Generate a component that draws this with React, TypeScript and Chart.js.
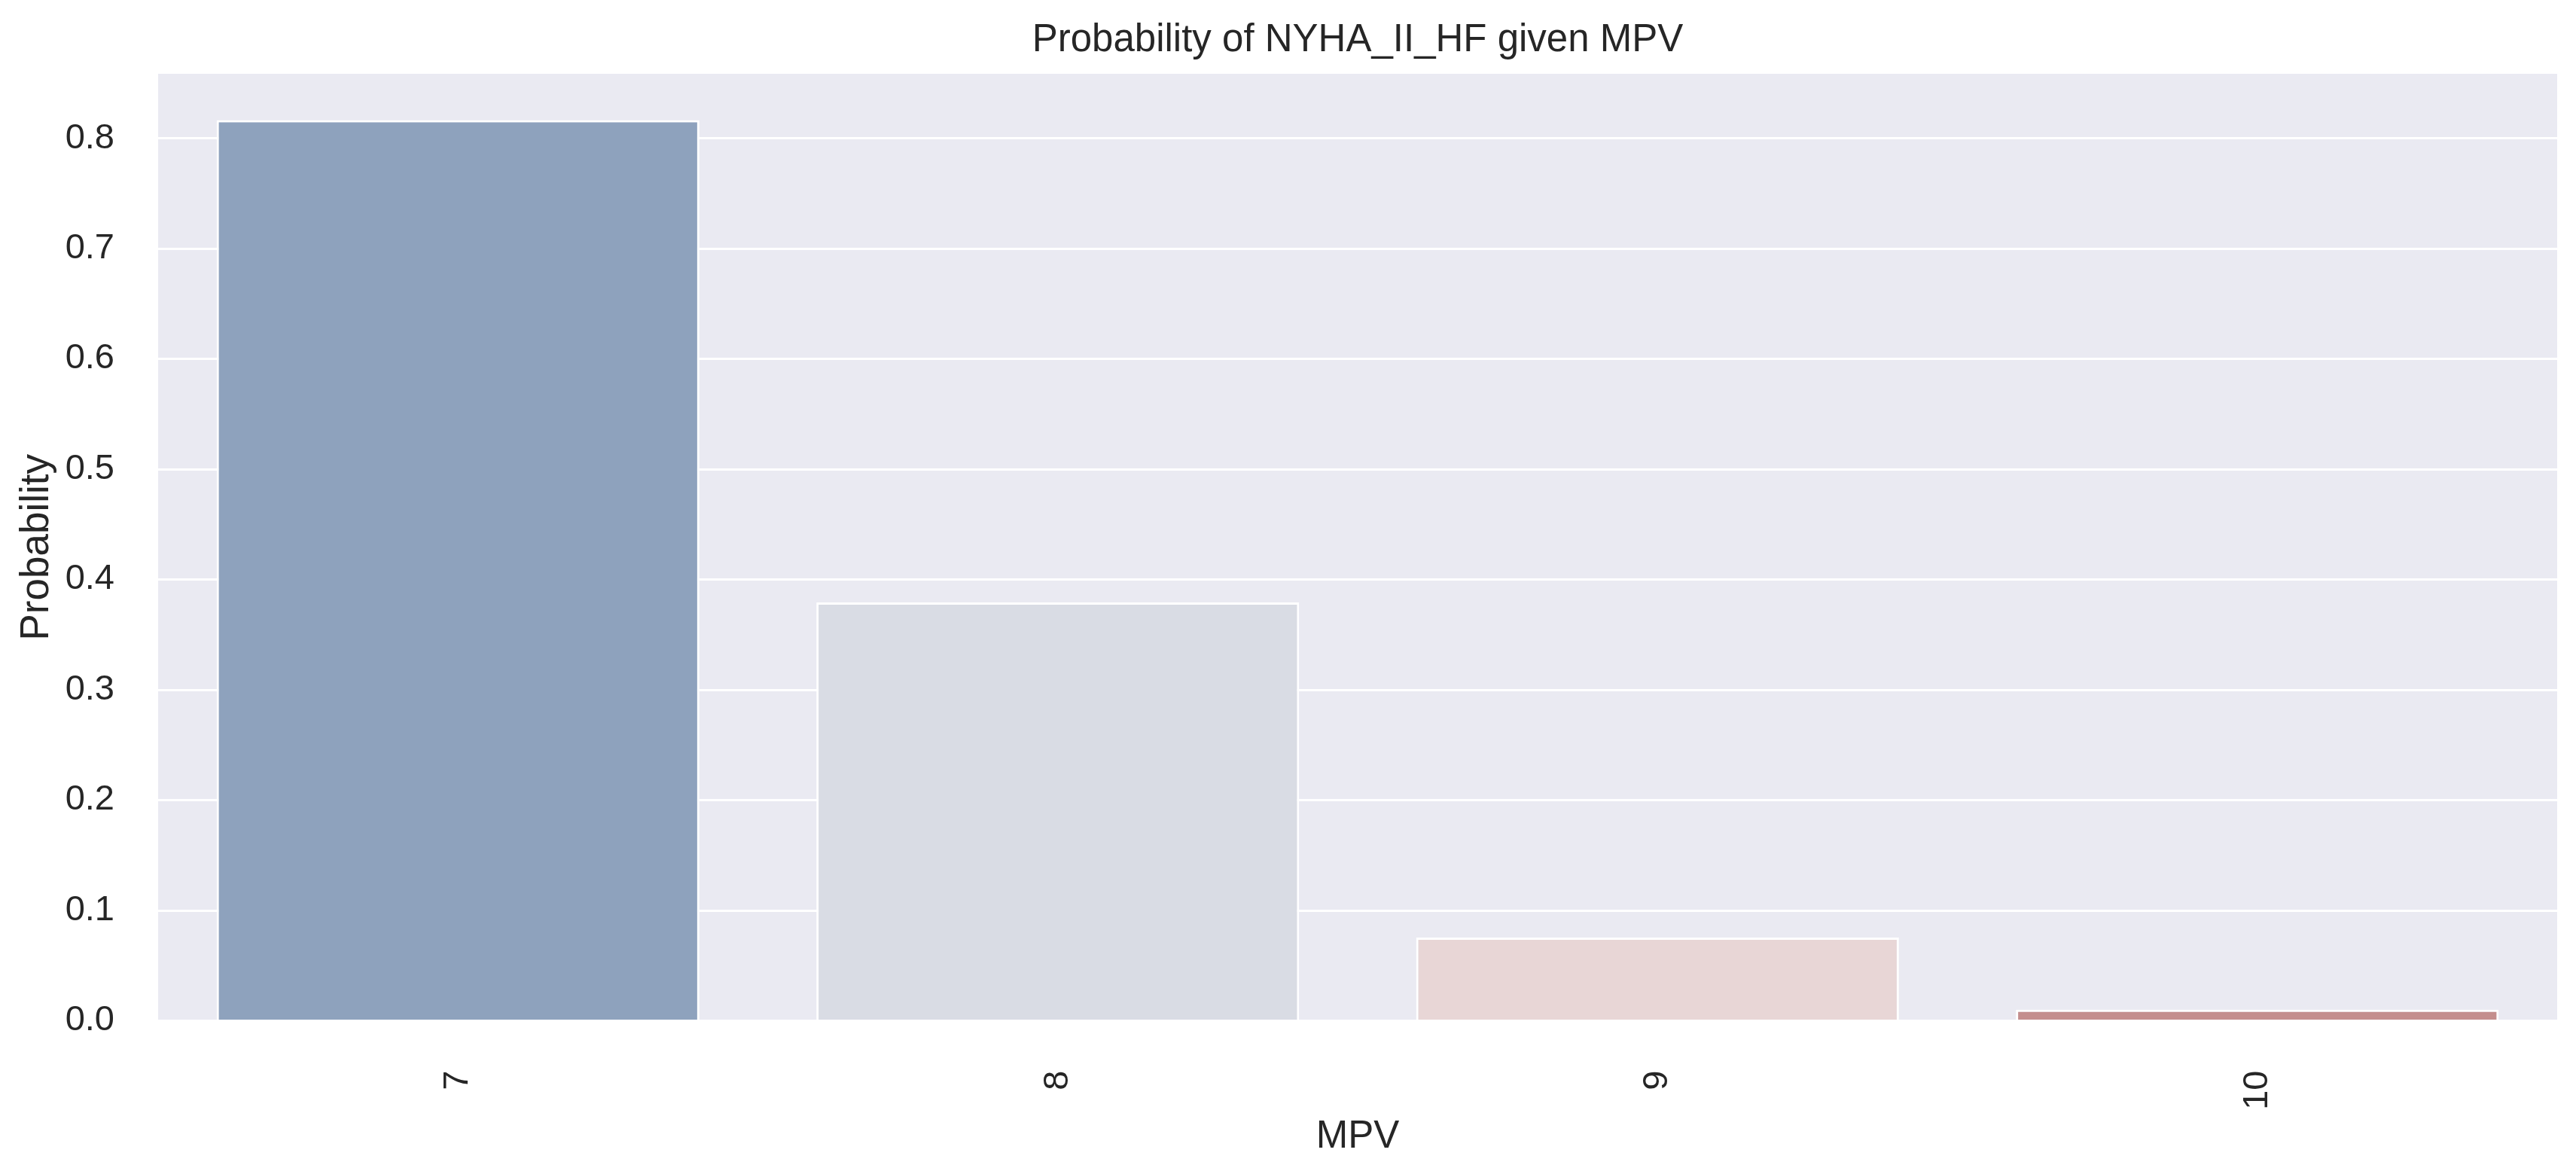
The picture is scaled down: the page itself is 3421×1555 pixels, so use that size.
import React, { useEffect, useRef } from "react";
import { Chart, registerables } from "chart.js";

Chart.register(...registerables);

const categories = ["7", "8", "9", "10"];
const probabilities = [0.8165, 0.3792, 0.0754, 0.0101];
const barColors = ["#8ea2bd", "#d9dce4", "#e8d6d6", "#c48e8d"];
const yTickValues = [0, 0.1, 0.2, 0.3, 0.4, 0.5, 0.6, 0.7, 0.8];
const yMax = 0.8584;

const TITLE = "Probability of NYHA_II_HF given MPV";
const X_LABEL = "MPV";
const Y_LABEL = "Probability";

const FONT = "'Liberation Sans', Arial, sans-serif";
const TEXT = "#262626";

const plotBg = {
  id: "plotBg",
  beforeDraw(chart: any) {
    const { ctx, chartArea } = chart;
    ctx.save();
    ctx.fillStyle = "#eaeaf2";
    ctx.fillRect(chartArea.left, chartArea.top, chartArea.right - chartArea.left, chartArea.bottom - chartArea.top);
    ctx.restore();
  },
};

const axesTitle = {
  id: "axesTitle",
  afterDraw(chart: any) {
    const { ctx, chartArea } = chart;
    ctx.save();
    ctx.fillStyle = TEXT;
    ctx.font = `51px ${FONT}`;
    ctx.textAlign = "center";
    ctx.textBaseline = "alphabetic";
    ctx.fillText(TITLE, (chartArea.left + chartArea.right) / 2, chartArea.top - 30);
    ctx.restore();
  },
};

export default function App() {
  const ref = useRef<HTMLCanvasElement>(null);
  useEffect(() => {
    document.body.style.margin = "0";
    const canvas = ref.current!;
    const chart = new Chart(canvas, {
      type: "bar",
      data: {
        labels: categories,
        datasets: [
          {
            data: probabilities,
            backgroundColor: barColors,
            borderColor: "#ffffff",
            borderWidth: 3,
            barPercentage: 0.805,
            categoryPercentage: 1.0,
          },
        ],
      },
      plugins: [plotBg, axesTitle],
      options: {
        animation: false,
        responsive: false,
        devicePixelRatio: 1,
        layout: { padding: { left: 0, right: 25, top: 98, bottom: 0 } },
        plugins: {
          legend: { display: false },
          tooltip: { enabled: false },
          title: { display: false },
        },
        scales: {
          x: {
            grid: { display: false, drawTicks: false },
            border: { display: false },
            ticks: {
              color: TEXT,
              font: { family: FONT, size: 47 },
              minRotation: 90,
              maxRotation: 90,
              autoSkip: false,
              padding: 66,
            },
            title: {
              display: true,
              text: X_LABEL,
              color: TEXT,
              font: { family: FONT, size: 51 },
              padding: { top: 0, bottom: 14 },
            },
            afterFit(scale: any) {
              scale.height = 199.5;
              scale.paddingLeft = 0;
              scale.paddingRight = 0;
            },
          },
          y: {
            min: 0,
            max: yMax,
            grid: { color: "#ffffff", lineWidth: 3, drawTicks: false },
            border: { display: false },
            afterBuildTicks(scale: any) {
              scale.ticks = yTickValues.map((v) => ({ value: v }));
            },
            ticks: {
              color: TEXT,
              font: { family: FONT, size: 47 },
              padding: 58,
              callback: (v: any) => Number(v).toFixed(1),
            },
            title: {
              display: true,
              text: Y_LABEL,
              color: TEXT,
              font: { family: FONT, size: 53 },
              padding: { top: 18, bottom: 0 },
            },
            afterFit(scale: any) {
              scale.width = 210;
              scale.paddingTop = 0;
              scale.paddingBottom = 0;
            },
          },
        },
      },
    });
    return () => chart.destroy();
  }, []);
  return <canvas ref={ref} width={3421} height={1555} style={{ display: "block", width: 3421, height: 1555 }} />;
}
